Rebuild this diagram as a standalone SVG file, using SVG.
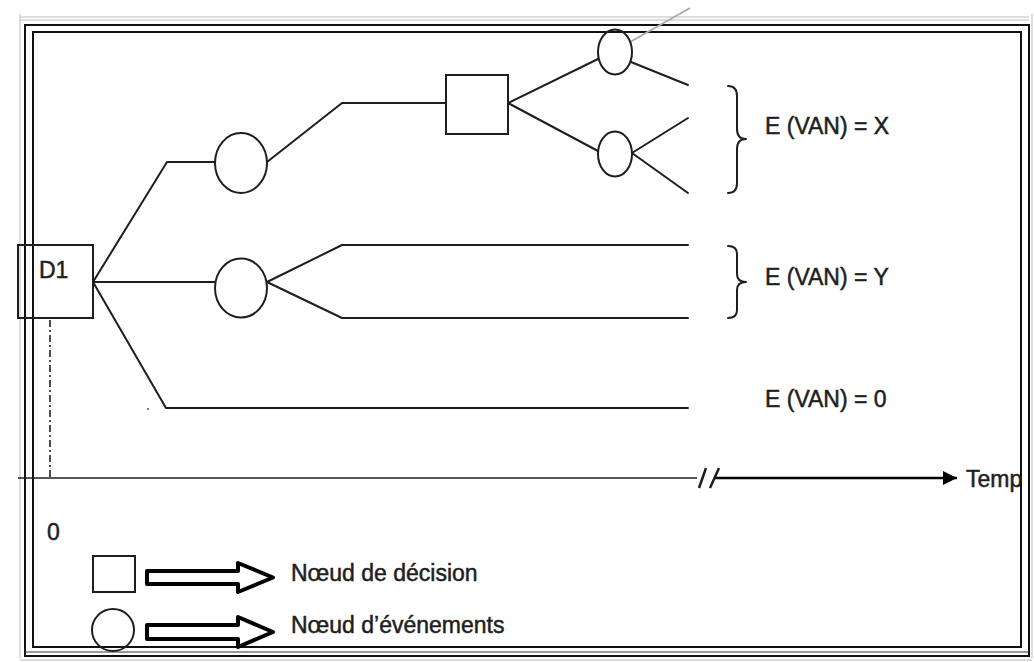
<svg xmlns="http://www.w3.org/2000/svg" width="1034" height="662" viewBox="0 0 1034 662">
<style>
.ln{fill:none;stroke:#1e1e1e;stroke-width:2;stroke-linecap:round;stroke-linejoin:round}
.nd{fill:none;stroke:#1e1e1e;stroke-width:2}
.fr{fill:none;stroke:#111;stroke-width:2}
.fz{fill:none;stroke:#bbb;stroke-width:1}
.tx{font-family:"Liberation Sans",Arial,sans-serif;font-size:23px;fill:#1f1f1f;stroke:#1f1f1f;stroke-width:0.5}
.blk{fill:#fff;stroke:#000;stroke-width:4;stroke-linejoin:round}
</style>
<defs>
<marker id="ah" viewBox="0 0 10 10" refX="10" refY="5" markerWidth="5.6" markerHeight="6" markerUnits="strokeWidth" orient="auto">
<path d="M0,0 L10,5 L0,10 z" fill="#000"/>
</marker>
<clipPath id="clipR"><rect x="0" y="0" width="1022" height="662"/></clipPath>
</defs>
<rect x="0" y="0" width="1034" height="662" fill="#fff"/>

<g id="frame">
<path class="fz" d="M20,17 H1029 M20,20 H1029 M20,14 V658 M1032,14 V658 M20,660 H1032"/>
<rect class="fr" x="25" y="25" width="1004" height="631"/>
<rect class="fr" x="33" y="32" width="988" height="615"/>
<line x1="25" y1="652" x2="1029" y2="652" stroke="#333" stroke-width="1"/>
</g>

<g id="connectors">
<polyline class="ln" points="93,282 167,162 215,162"/>
<polyline class="ln" points="267,162 342,103 446,103"/>
<line class="ln" x1="508" y1="103" x2="598" y2="59"/>
<line class="ln" x1="508" y1="103" x2="598" y2="151"/>
<line class="ln" x1="631" y1="62" x2="688" y2="85"/>
<line class="ln" x1="632" y1="153" x2="688" y2="118"/>
<line class="ln" x1="632" y1="153" x2="688" y2="193"/>
<line x1="630" y1="42" x2="690" y2="8" stroke="#aaa" stroke-width="2"/>
<line class="ln" x1="93" y1="282" x2="215" y2="282"/>
<polyline class="ln" points="267,282 342,245 688,245"/>
<polyline class="ln" points="267,282 342,318 688,318"/>
<polyline class="ln" points="93,282 166,408 688,408"/>
<circle cx="148" cy="409" r="1" fill="#555"/>
<line x1="50" y1="320" x2="50" y2="478" stroke="#222" stroke-width="1.6" stroke-dasharray="7,3,2,3"/>
</g>

<g id="d1">
<rect class="nd" x="18" y="245" width="75" height="73"/>
<text class="tx" x="39" y="278" font-size="22">D1</text>
</g>
<g id="event1"><ellipse class="nd" cx="241" cy="163" rx="26" ry="30" fill="#fff"/></g>
<g id="decision2"><rect class="nd" x="446" y="75" width="62" height="59"/></g>
<g id="event2a"><ellipse class="nd" cx="615" cy="52" rx="17" ry="22.5"/></g>
<g id="event2b"><ellipse class="nd" cx="615" cy="154" rx="17" ry="22.5"/></g>
<g id="event3"><ellipse class="nd" cx="241" cy="288" rx="26" ry="29.5"/></g>

<g id="outcomes">
<path class="ln" d="M728,86 Q737,86 737,96 V129 Q737,139 746,139 Q737,139 737,149 V183 Q737,193 728,193"/>
<text class="tx" x="765" y="134">E (VAN) = X</text>
<path class="ln" d="M728,246 Q737,246 737,254 V274 Q737,282 746,282 Q737,282 737,290 V310 Q737,318 728,318"/>
<text class="tx" x="765" y="285">E (VAN) = Y</text>
<text class="tx" x="765" y="407">E (VAN) = 0</text>
</g>

<g id="axis">
<line x1="18" y1="478" x2="697" y2="478" stroke="#1e1e1e" stroke-width="1.6"/>
<path d="M699,488 L706,468 M710,488 L719,468" stroke="#1e1e1e" stroke-width="2.5" fill="none"/>
<line x1="715" y1="478" x2="957" y2="478" stroke="#000" stroke-width="2.5" marker-end="url(#ah)"/>
<text class="tx" x="966" y="487" clip-path="url(#clipR)">Temps</text>
<text class="tx" x="47" y="540">0</text>
</g>

<g id="legend">
<rect class="nd" x="93" y="556" width="42" height="36"/>
<path class="blk" d="M147,571 H238 V563 L273,577.5 L238,592 V584 H147 Z"/>
<text class="tx" x="291" y="581">Nœud de décision</text>
<circle class="nd" cx="113" cy="630" r="21"/>
<path class="blk" d="M147,625 H238 V617 L273,632 L238,647 V639 H147 Z"/>
<text class="tx" x="291" y="633">Nœud d’événements</text>
</g>
</svg>
